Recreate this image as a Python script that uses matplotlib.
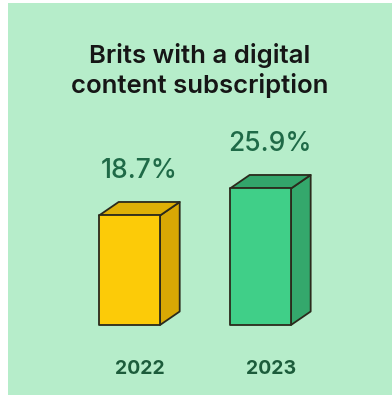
import matplotlib
matplotlib.use("Agg")
import matplotlib.pyplot as plt
from matplotlib.patches import Polygon, Rectangle

plt.rcParams['font.family'] = ['Inter', 'DejaVu Sans']

# data
years = ['2022', '2023']
shares = [18.7, 25.9]
face_colors = ['#fccb08', '#40cf88']
side_colors = ['#d8a804', '#34a86c']
top_colors = ['#deb006', '#33a56b']

W, H = 392, 398
fig = plt.figure(figsize=(W / 100, H / 100), dpi=100)
fig.patch.set_facecolor('white')

# green card behind everything
bg = fig.add_axes([0, 0, 1, 1])
bg.set_xlim(0, W)
bg.set_ylim(H, 0)
bg.axis('off')
bg.add_patch(Rectangle((8, 3), W - 8, 392, facecolor='#b6edca', edgecolor='none'))

ax = fig.add_axes([0, 0, 1, 1])
ax.set_xlim(-0.989, 2.004)
ax.set_ylim(-29.97, 76.16)
ax.axis('off')

base = -10.5      # bars rise from below zero
width = 0.466
dx, dy = 0.15, 3.6   # depth of the box
edge = '#2b2a1c'

for i, (yr, v) in enumerate(zip(years, shares)):
    x0, x1 = i - width / 2, i + width / 2
    ax.add_patch(Polygon([(x1, base), (x1 + dx, base + dy), (x1 + dx, v + dy), (x1, v)],
                         closed=True, facecolor=side_colors[i], edgecolor=edge, lw=1.3, joinstyle='round'))
    ax.add_patch(Polygon([(x0, v), (x0 + dx, v + dy), (x1 + dx, v + dy), (x1, v)],
                         closed=True, facecolor=top_colors[i], edgecolor=edge, lw=1.3, joinstyle='round'))
    ax.add_patch(Rectangle((x0, base), width, v - base,
                           facecolor=face_colors[i], edgecolor=edge, lw=1.3, joinstyle='round'))
    ax.annotate(f'{v}%', (i + dx / 2, v + dy), xytext=(0, 22), textcoords='offset points',
                ha='center', va='center', fontsize=19, color='#1f6a47', fontweight='medium')
    ax.text(i + 0.08, -22.3, yr, ha='center', va='center', fontsize=14,
            color='#1c5c3b', fontweight='bold')

fig.text(200 / W, 1 - 55 / H, 'Brits with a digital', ha='center', va='center',
         fontsize=18.5, color='#161616', fontweight='semibold')
fig.text(200 / W, 1 - 86 / H, 'content subscription', ha='center', va='center',
         fontsize=18.5, color='#161616', fontweight='semibold')

fig.savefig('out.png', dpi=100, facecolor=fig.get_facecolor())
